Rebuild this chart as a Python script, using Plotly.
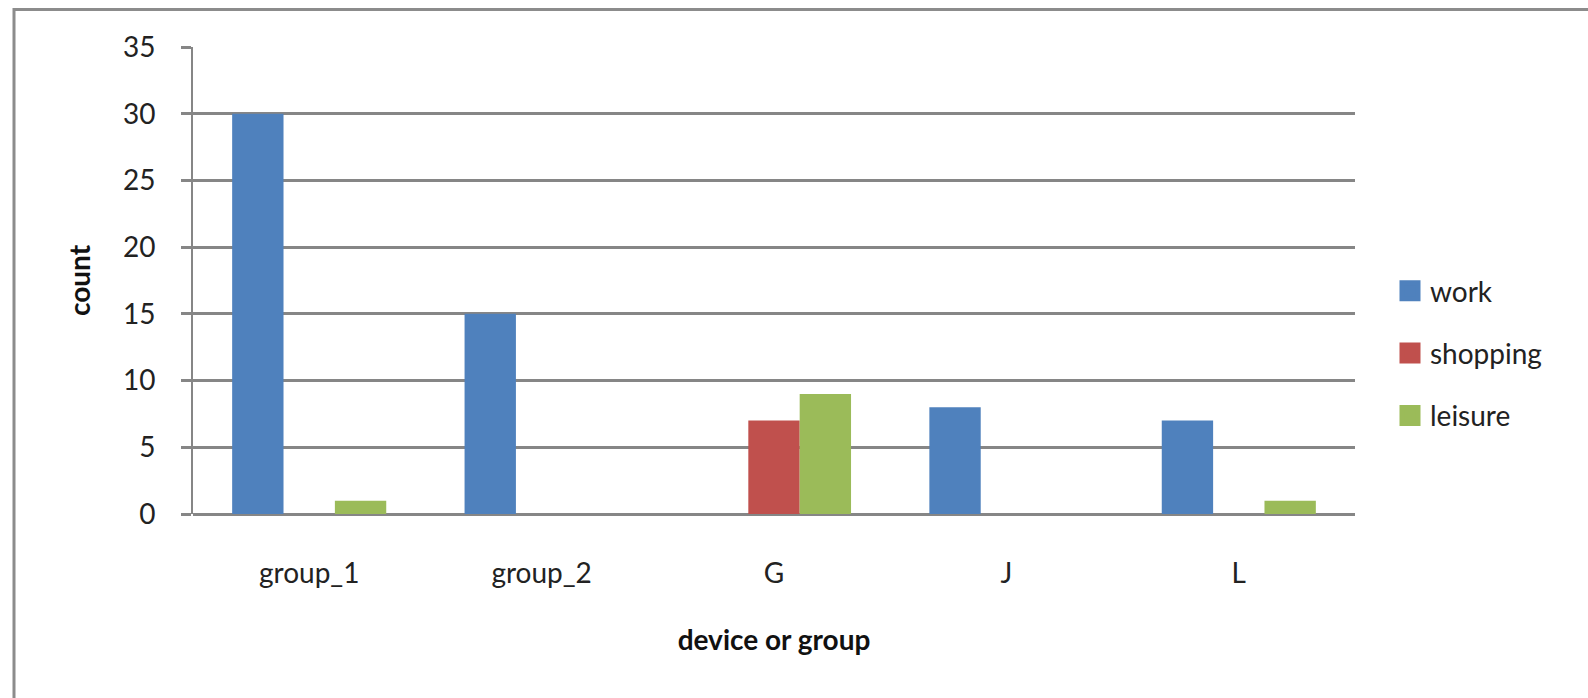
import plotly.graph_objects as go

# Category axis and counts per activity
categories = ["group_1", "group_2", "G", "J", "L"]
work = [30, 15, 0, 8, 7]
shopping = [0, 0, 7, 0, 0]
leisure = [1, 0, 9, 0, 1]
y_ticks = [0, 5, 10, 15, 20, 25, 30, 35]

series = [
    ("work", work, "#4F81BD"),
    ("shopping", shopping, "#C0504D"),
    ("leisure", leisure, "#9BBB59"),
]

FONT = "Lato, Calibri, 'Open Sans', sans-serif"
TEXT = "#222222"
GRID = "#868686"
FS = 28

fig = go.Figure()
for name, vals, color in series:
    fig.add_trace(go.Bar(
        x=categories, y=vals, name=name,
        marker=dict(color=color, line=dict(width=0)),
        legendgroup=name, showlegend=False,
    ))
    # square legend key for this series
    fig.add_trace(go.Scatter(
        x=[None], y=[None], name=name, mode="markers",
        marker=dict(symbol="square", size=16, color=color, line=dict(color=color, width=5)),
        legendgroup=name, showlegend=True, hoverinfo="skip",
    ))

W, H = 1588, 698
L_M, R_M, T_M, B_M = 193, 233, 47, 184
pw = W - L_M - R_M
ph = H - T_M - B_M

def px_to_paper_x(px):
    return (px - L_M) / pw

def px_to_paper_y(py):
    return (H - B_M - py) / ph

fig.update_layout(
    width=W, height=H,
    margin=dict(l=L_M, r=R_M, t=T_M, b=B_M, pad=0),
    paper_bgcolor="white", plot_bgcolor="white",
    barmode="group", bargap=0.337, bargroupgap=0,
    font=dict(family=FONT, color=TEXT, size=FS),
    showlegend=True,
    legend=dict(
        x=px_to_paper_x(1390), y=px_to_paper_y(266), xanchor="left", yanchor="top",
        font=dict(family=FONT, size=FS, color=TEXT),
        traceorder="grouped", tracegroupgap=23,
        bgcolor="rgba(0,0,0,0)", itemclick=False,
    ),
    xaxis=dict(
        type="category",
        showgrid=False, zeroline=False,
        showline=False,
        ticks="", ticklabelstandoff=40,
        tickfont=dict(family=FONT, size=FS, color=TEXT),
        title=dict(text="<b>device or group</b>", font=dict(family=FONT, size=FS, color="#111"), standoff=42),
    ),
    yaxis=dict(
        range=[0, 35], tickvals=y_ticks,
        showgrid=True, gridcolor=GRID, gridwidth=2.5,
        zeroline=True, zerolinecolor=GRID, zerolinewidth=3,
        showline=True, linecolor=GRID, linewidth=2,
        ticks="outside", ticklen=10, tickcolor=GRID, tickwidth=2.5,
        ticklabelstandoff=20,
        tickfont=dict(family=FONT, size=FS, color=TEXT),
        title=dict(text="<b>count</b>", font=dict(family=FONT, size=FS, color="#111"), standoff=24),
    ),
)

# Chart frame (left and top edges visible; it runs past the right and bottom edges)
fig.add_shape(
    type="rect", xref="paper", yref="paper",
    x0=px_to_paper_x(14), x1=px_to_paper_x(W + 20),
    y0=px_to_paper_y(H + 20), y1=px_to_paper_y(9.5),
    line=dict(color="#8c8c8c", width=3), fillcolor="rgba(0,0,0,0)",
    layer="below",
)

fig.write_html("out.html")
